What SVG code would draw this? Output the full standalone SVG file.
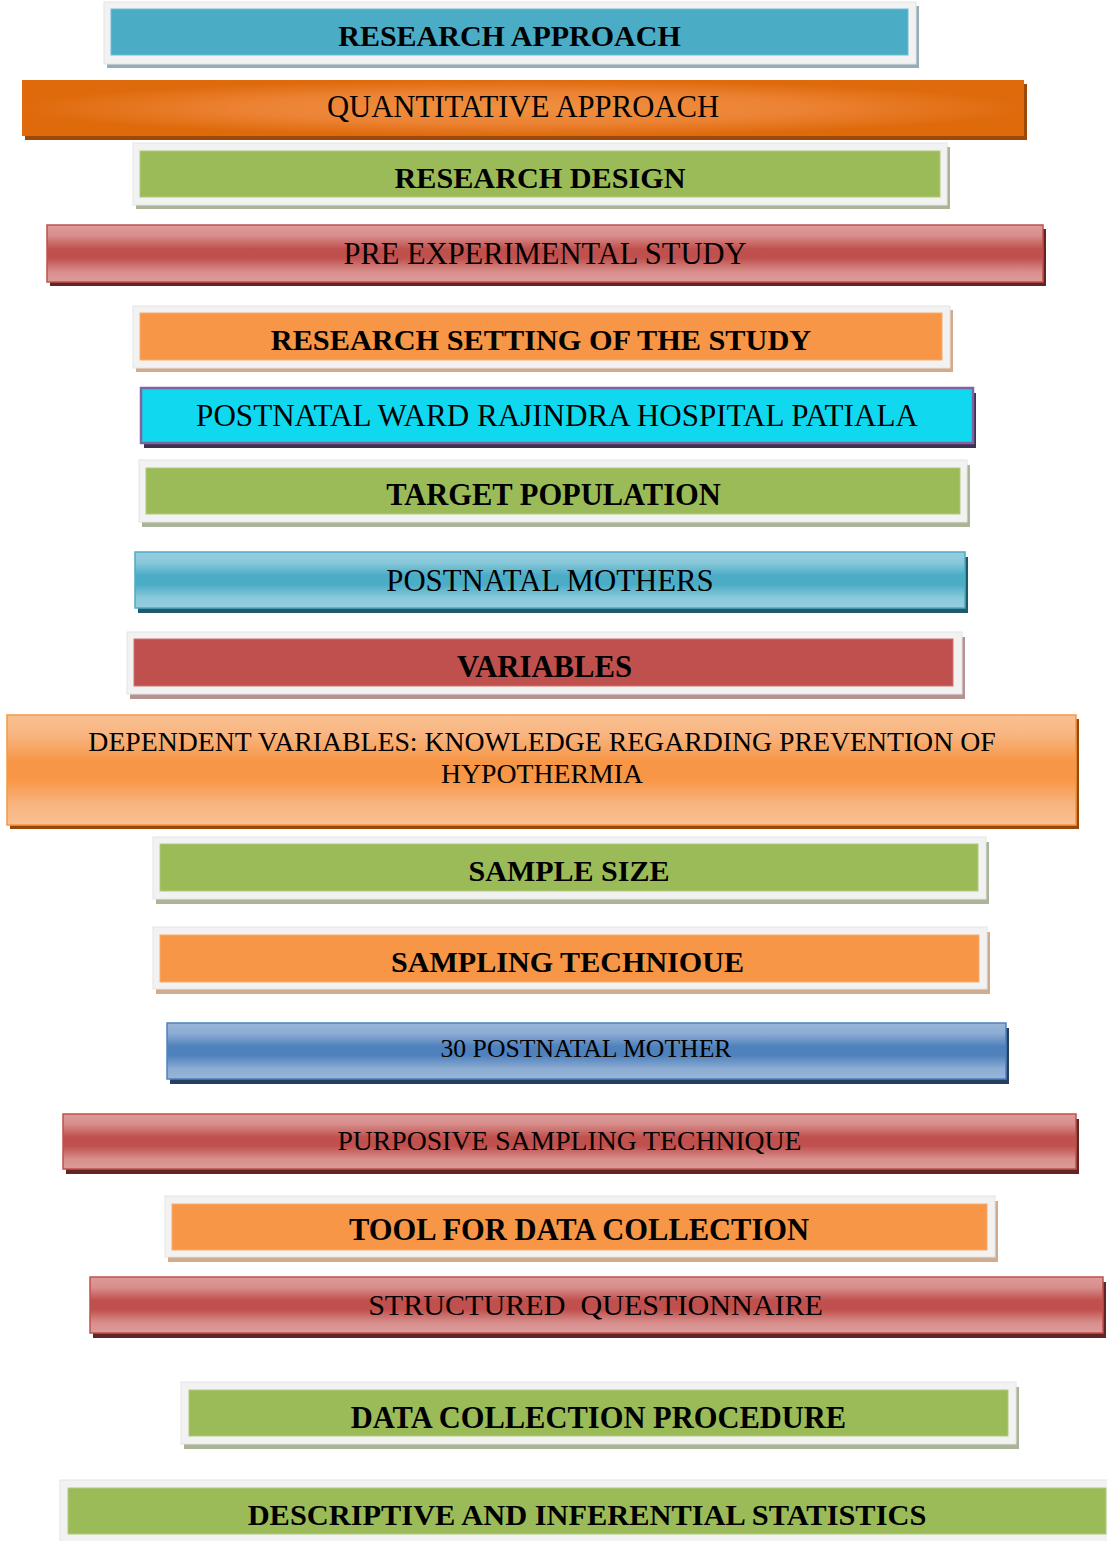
<svg xmlns="http://www.w3.org/2000/svg" width="1107" height="1541" viewBox="0 0 1107 1541">
  <defs>
    <style>
      .lbl { font-family: "Liberation Serif", "Times New Roman", serif; font-size: 30px; fill: #000; text-anchor: middle; white-space: pre; }
      .b { font-weight: bold; }
      .frame { fill: #f2f2f2; stroke: #e4e4e4; stroke-width: 1; }
      .inner { stroke-width: 1; }
    </style>
    <!-- glossy vertical bands: light at top and bottom, base colour in the middle -->
    <linearGradient id="gRed" x1="0" y1="0" x2="0" y2="1">
      <stop offset="0" stop-color="#dd9b99"/>
      <stop offset="0.18" stop-color="#d88f8d"/>
      <stop offset="0.42" stop-color="#c0504d"/>
      <stop offset="0.58" stop-color="#c0504d"/>
      <stop offset="0.82" stop-color="#d88f8d"/>
      <stop offset="1" stop-color="#dd9b99"/>
    </linearGradient>
    <linearGradient id="gAqua" x1="0" y1="0" x2="0" y2="1">
      <stop offset="0" stop-color="#96cfdf"/>
      <stop offset="0.18" stop-color="#8ac9da"/>
      <stop offset="0.42" stop-color="#4bacc6"/>
      <stop offset="0.58" stop-color="#4bacc6"/>
      <stop offset="0.82" stop-color="#8ac9da"/>
      <stop offset="1" stop-color="#96cfdf"/>
    </linearGradient>
    <linearGradient id="gBlue" x1="0" y1="0" x2="0" y2="1">
      <stop offset="0" stop-color="#98b5d9"/>
      <stop offset="0.18" stop-color="#8eadd4"/>
      <stop offset="0.42" stop-color="#4f81bd"/>
      <stop offset="0.58" stop-color="#4f81bd"/>
      <stop offset="0.82" stop-color="#8eadd4"/>
      <stop offset="1" stop-color="#98b5d9"/>
    </linearGradient>
    <linearGradient id="gOrange" x1="0" y1="0" x2="0" y2="1">
      <stop offset="0" stop-color="#fac191"/>
      <stop offset="0.18" stop-color="#f8b581"/>
      <stop offset="0.42" stop-color="#f79646"/>
      <stop offset="0.58" stop-color="#f79646"/>
      <stop offset="0.82" stop-color="#f8b581"/>
      <stop offset="1" stop-color="#fac191"/>
    </linearGradient>
    <radialGradient id="gDeepOrange" cx="0.5" cy="0.5" r="0.5">
      <stop offset="0" stop-color="#f0903f"/>
      <stop offset="0.55" stop-color="#ec8334"/>
      <stop offset="1" stop-color="#df6a0c"/>
    </radialGradient>
  </defs>

  <!-- 1 -->
  <g id="research-approach">
    <rect x="107" y="6" width="812" height="62" fill="#93adb9"/>
    <rect class="frame" x="104" y="2" width="812" height="62"/>
    <rect class="inner" x="111" y="9" width="797" height="46" fill="#4bacc6" stroke="#6cbfd4"/>
    <text class="lbl b" x="509.5" y="46">RESEARCH APPROACH</text>
  </g>

  <!-- 2 -->
  <g id="quantitative-approach">
    <rect x="25" y="84" width="1002" height="56" fill="#9c4a0b"/>
    <rect x="22" y="80" width="1002" height="56" fill="url(#gDeepOrange)"/>
    <text class="lbl" style="font-size:30.7px" x="523" y="117">QUANTITATIVE APPROACH</text>
  </g>

  <!-- 3 -->
  <g id="research-design">
    <rect x="136" y="147" width="814" height="62" fill="#a9b596"/>
    <rect class="frame" x="133" y="143" width="814" height="62"/>
    <rect class="inner" x="140" y="151" width="800" height="46" fill="#9bbb59" stroke="#b0ca7c"/>
    <text class="lbl b" style="font-size:30.2px" x="540" y="188">RESEARCH DESIGN</text>
  </g>

  <!-- 4 -->
  <g id="pre-experimental-study">
    <rect x="50" y="229" width="996" height="57" fill="#632523"/>
    <rect x="47" y="225" width="996" height="57" fill="url(#gRed)" stroke="#c0504d" stroke-width="1.5"/>
    <text class="lbl" style="font-size:30.5px" x="545" y="264">PRE EXPERIMENTAL STUDY</text>
  </g>

  <!-- 5 -->
  <g id="research-setting">
    <rect x="136" y="310" width="817" height="62" fill="#d2ab8c"/>
    <rect class="frame" x="133" y="306" width="817" height="62"/>
    <rect class="inner" x="140" y="313" width="802" height="47" fill="#f79646" stroke="#f9ab6b"/>
    <text class="lbl b" style="font-size:30.3px" x="541" y="350">RESEARCH SETTING OF THE STUDY</text>
  </g>

  <!-- 6 -->
  <g id="postnatal-ward">
    <rect x="144" y="393" width="832" height="55" fill="#3f3151"/>
    <rect x="141" y="388" width="832" height="55" fill="#10d9ef" stroke="#8064a2" stroke-width="2.5"/>
    <text class="lbl" style="font-size:31.1px" x="557" y="426">POSTNATAL WARD RAJINDRA HOSPITAL PATIALA</text>
  </g>

  <!-- 7 -->
  <g id="target-population">
    <rect x="142" y="465" width="828" height="62" fill="#a9b596"/>
    <rect class="frame" x="139" y="460" width="828" height="62"/>
    <rect class="inner" x="146" y="468" width="814" height="46" fill="#9bbb59" stroke="#b0ca7c"/>
    <text class="lbl b" style="font-size:30.5px" x="553.5" y="505">TARGET POPULATION</text>
  </g>

  <!-- 8 -->
  <g id="postnatal-mothers">
    <rect x="138" y="557" width="830" height="56" fill="#215968"/>
    <rect x="135" y="552" width="830" height="56" fill="url(#gAqua)" stroke="#4bacc6" stroke-width="1.5"/>
    <text class="lbl" style="font-size:30.8px" x="550" y="591">POSTNATAL MOTHERS</text>
  </g>

  <!-- 9 -->
  <g id="variables">
    <rect x="130" y="637" width="835" height="62" fill="#b59391"/>
    <rect class="frame" x="127" y="632" width="835" height="62"/>
    <rect class="inner" x="134" y="639" width="819" height="47" fill="#c0504d" stroke="#cd726f"/>
    <text class="lbl b" style="font-size:30.7px" x="544.5" y="677">VARIABLES</text>
  </g>

  <!-- 10 -->
  <g id="dependent-variables">
    <rect x="10" y="719" width="1069" height="110" fill="#984807"/>
    <rect x="7" y="715" width="1069" height="110" fill="url(#gOrange)" stroke="#f79646" stroke-width="1.5"/>
    <text class="lbl" style="font-size:27.75px" x="542" y="751">DEPENDENT VARIABLES: KNOWLEDGE REGARDING PREVENTION OF</text>
    <text class="lbl" style="font-size:27.75px" x="542" y="783">HYPOTHERMIA</text>
  </g>

  <!-- 11 -->
  <g id="sample-size">
    <rect x="156" y="842" width="833" height="62" fill="#a9b596"/>
    <rect class="frame" x="153" y="837" width="833" height="62"/>
    <rect class="inner" x="160" y="844" width="818" height="47" fill="#9bbb59" stroke="#b0ca7c"/>
    <text class="lbl b" x="569" y="881">SAMPLE SIZE</text>
  </g>

  <!-- 12 -->
  <g id="sampling-technique">
    <rect x="156" y="932" width="834" height="62" fill="#d2ab8c"/>
    <rect class="frame" x="153" y="927" width="834" height="62"/>
    <rect class="inner" x="160" y="935" width="819" height="47" fill="#f79646" stroke="#f9ab6b"/>
    <text class="lbl b" style="font-size:30.1px" x="567.5" y="972">SAMPLING TECHNIOUE</text>
  </g>

  <!-- 13 -->
  <g id="thirty-postnatal-mother">
    <rect x="170" y="1028" width="839" height="56" fill="#243f60"/>
    <rect x="167" y="1023" width="839" height="56" fill="url(#gBlue)" stroke="#4f81bd" stroke-width="1.5"/>
    <text class="lbl" style="font-size:25.7px" x="586" y="1057">30 POSTNATAL MOTHER</text>
  </g>

  <!-- 14 -->
  <g id="purposive-sampling">
    <rect x="66" y="1119" width="1013" height="55" fill="#632523"/>
    <rect x="63" y="1114" width="1013" height="55" fill="url(#gRed)" stroke="#c0504d" stroke-width="1.5"/>
    <text class="lbl" style="font-size:27.7px" x="569.5" y="1150">PURPOSIVE SAMPLING TECHNIQUE</text>
  </g>

  <!-- 15 -->
  <g id="tool-for-data-collection">
    <rect x="168" y="1201" width="830" height="61" fill="#d2ab8c"/>
    <rect class="frame" x="165" y="1196" width="830" height="61"/>
    <rect class="inner" x="172" y="1204" width="815" height="46" fill="#f79646" stroke="#f9ab6b"/>
    <text class="lbl b" style="font-size:30.5px" x="579" y="1240">TOOL FOR DATA COLLECTION</text>
  </g>

  <!-- 16 -->
  <g id="structured-questionnaire">
    <rect x="93" y="1282" width="1013" height="56" fill="#632523"/>
    <rect x="90" y="1277" width="1013" height="56" fill="url(#gRed)" stroke="#c0504d" stroke-width="1.5"/>
    <text class="lbl" style="font-size:30.1px" x="595.5" y="1315">STRUCTURED  QUESTIONNAIRE</text>
  </g>

  <!-- 17 -->
  <g id="data-collection-procedure">
    <rect x="184" y="1387" width="835" height="62" fill="#a9b596"/>
    <rect class="frame" x="181" y="1382" width="835" height="62"/>
    <rect class="inner" x="189" y="1390" width="819" height="46" fill="#9bbb59" stroke="#b0ca7c"/>
    <text class="lbl b" style="font-size:30.5px" x="598.5" y="1428">DATA COLLECTION PROCEDURE</text>
  </g>

  <!-- 18 -->
  <g id="statistics">
    <rect class="frame" x="60" y="1480" width="1050" height="62"/>
    <rect class="inner" x="68" y="1488" width="1038" height="46" fill="#9bbb59" stroke="#b0ca7c"/>
    <text class="lbl b" style="font-size:30.4px" x="587" y="1525">DESCRIPTIVE AND INFERENTIAL STATISTICS</text>
  </g>

  <!-- the boxes are stacked without connecting lines -->
  <g id="connectors"/>
</svg>
